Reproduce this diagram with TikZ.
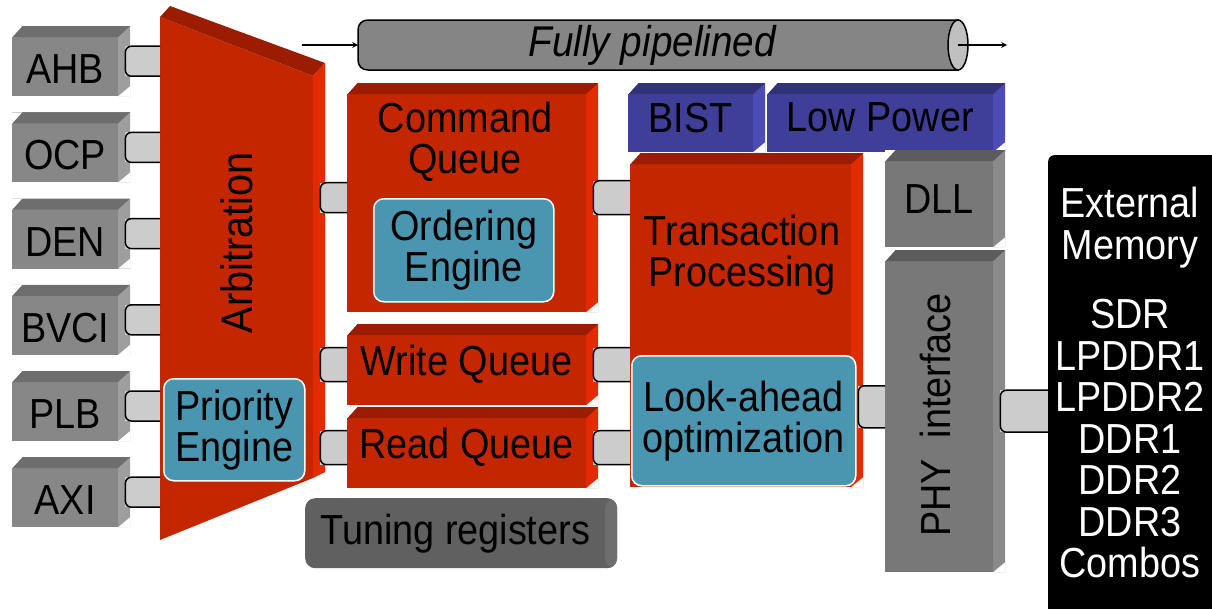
\documentclass[tikz,border=0pt]{standalone}
\usepackage{fontspec}
\setmainfont{Liberation Sans}[FakeStretch=0.9]
\usepackage{tikz}
\usetikzlibrary{calc,positioning}
\definecolor{busfront}{RGB}{135,135,135}
\definecolor{bustop}{RGB}{110,110,110}
\definecolor{busside}{RGB}{158,158,158}
\definecolor{redfront}{RGB}{196,38,0}
\definecolor{redtop}{RGB}{155,28,0}
\definecolor{redside}{RGB}{228,42,0}
\definecolor{bluefront}{RGB}{63,63,153}
\definecolor{bluetop}{RGB}{50,50,120}
\definecolor{blueside}{RGB}{76,76,178}
\definecolor{phyfront}{RGB}{120,120,120}
\definecolor{phytop}{RGB}{92,92,92}
\definecolor{physide}{RGB}{138,138,138}
\definecolor{tealfill}{RGB}{74,150,176}
\definecolor{tunefill}{RGB}{96,96,96}
\definecolor{tuneside}{RGB}{110,110,110}
\definecolor{plugfill}{RGB}{204,204,204}
\definecolor{pipegrey}{RGB}{133,133,133}
\definecolor{pipeend}{RGB}{192,192,192}
\tikzset{
  box3d/.style n args={3}{rectangle, inner sep=0pt, anchor=north west, fill=#1,
    execute at begin node={\kern-12pt},
    path picture={
      \fill[#2] (path picture bounding box.north west) -- (path picture bounding box.north east)
        -- ([shift={(-12pt,-11pt)}]path picture bounding box.north east)
        -- ([yshift=-11pt]path picture bounding box.north west) -- cycle;
      \fill[#3] ([shift={(-12pt,-11pt)}]path picture bounding box.north east)
        -- (path picture bounding box.north east) -- (path picture bounding box.south east)
        -- ([xshift=-12pt]path picture bounding box.south east) -- cycle;
      % cut corners
      \fill[white] (path picture bounding box.north west) -- ([xshift=10pt]path picture bounding box.north west)
        -- ([yshift=-11pt]path picture bounding box.north west) -- cycle;
      \fill[white] (path picture bounding box.south east) -- ([yshift=10pt]path picture bounding box.south east)
        -- ([xshift=-12pt]path picture bounding box.south east) -- cycle;
    }},
}
\tikzstyle{busbox} = [box3d={busfront}{bustop}{busside}, minimum width=118pt, minimum height=70pt, text height=45pt, text depth=0pt]
\tikzstyle{redbox} = [box3d={redfront}{redtop}{redside}]
\tikzstyle{bluebox} = [box3d={bluefront}{bluetop}{blueside}, minimum height=69pt]
\tikzstyle{phybox} = [box3d={phyfront}{phytop}{physide}, minimum width=120pt]
\tikzstyle{tealbox} = [rectangle, rounded corners=10pt, fill=tealfill, draw=white, line width=1.5pt, anchor=north west, align=center, inner sep=0pt]
\tikzstyle{plugline} = [line width=1.5pt, rounded corners=6pt]
\tikzstyle{arrow} = [line width=1.5pt,->,>=stealth]
\newcommand{\plug}[4]{%
  \fill[plugfill] ($(#1 -| #2.east)+(-5pt,#4)$) rectangle ($(#1 -| #3.west)+(0pt,-#4)$);
  \draw[plugline] ($(#1 -| #3.west)+(0pt,#4)$) -- ($(#1 -| #2.east)+(-5pt,#4)$)
    -- ($(#1 -| #2.east)+(-5pt,-#4)$) -- ($(#1 -| #3.west)+(0pt,-#4)$);
}
\begin{document}
\begin{tikzpicture}[x=1pt,y=-1pt,font=\fontsize{42}{41}\selectfont]
\useasboundingbox (0,0) rectangle (1212,608);

% pipeline tube
\draw[line width=1.5pt, fill=pipegrey] (958,20) -- (368,20) .. controls (362,20) and (358,24) .. (358,30)
  -- (358,60) .. controls (358,66) and (362,70) .. (368,70) -- (958,70) -- cycle;
\draw[line width=1.5pt, fill=pipeend] (958,45) ellipse [x radius=10pt, y radius=25pt];
\node[anchor=west, minimum width=600pt, minimum height=50pt, inner sep=0pt,
  font=\fontsize{43}{43}\selectfont\itshape] (pipe) at (358,45) {\kern-12pt Fully pipelined};
\coordinate (pipein) at (302,45);
\coordinate (pipeout) at (1007,45);
\draw[arrow] (pipein) -- (pipe.west);
\draw[arrow] (pipe.east) -- (pipeout);

% bus interfaces
\foreach \name/\lbl [count=\i] in {ahb/AHB,ocp/OCP,den/DEN,bvci/BVCI,plb/PLB,axi/AXI}
  \node[busbox] (\name) at (12,{26+86.2*(\i-1)}) {\lbl};

% arbitration
\node[anchor=north west, minimum width=165pt, minimum height=534pt, inner sep=0pt] (arb) at (160,6) {};
\fill[redfront] (160,17) -- (313,76) -- (313,478) -- (160,540) -- cycle;
\fill[redtop] (160,17) -- (170,6) -- (325,63) -- (313,76) -- cycle;
\fill[redside] (313,76) -- (325,63) -- (325,472) -- (313,478) -- cycle;
\node[rotate=90, font=\fontsize{44}{44}\selectfont] (arbtext) at (237,243) {Arbitration};
\node[tealbox, minimum width=141pt, minimum height=102pt] (prio) at (163,378) {Priority\\Engine};

% queues
\node[redbox, minimum width=251pt, minimum height=229pt] (cmdq) at (347,83) {};
\node[align=center] (cmdqtext) at (465,142) {Command\\Queue};
\node[tealbox, minimum width=180pt, minimum height=103pt] (order) at (373,198) {Ordering\\Engine};
\node[redbox, minimum width=251pt, minimum height=81pt] (wrq) at (347,324) {Write Queue};
\node[redbox, minimum width=251pt, minimum height=81pt] (rdq) at (347,407) {Read Queue};
\node[anchor=north west, rounded corners=10pt, fill=tunefill, minimum width=312pt, minimum height=70pt,
  path picture={\fill[tuneside] ([xshift=-12pt]path picture bounding box.north east) rectangle (path picture bounding box.south east);}]
  (tune) at (305,498) {\kern-12pt Tuning registers};

% transaction processing
\node[bluebox, minimum width=137pt] (bist) at (628,83) {BIST};
\node[bluebox, minimum width=238pt] (lowp) at (767,83) {Low Power};
\node[redbox, minimum width=233pt, minimum height=334pt] (trans) at (630,153) {};
\node[align=center] (transtext) at (742,255) {Transaction\\Processing};
\node[tealbox, minimum width=224pt, minimum height=130pt] (look) at (631,355) {Look-ahead\\optimization};

% phy
\node[phybox, minimum height=97pt] (dll) at (885,150) {DLL};
\node[phybox, minimum height=322pt] (phy) at (885,250) {};
\node[rotate=90] (phytext) at (935,415) {PHY\ \ interface};

% external memory
\node[anchor=north west, fill=black, rounded corners=6pt, minimum width=180pt, minimum height=470pt] (ext) at (1048,155) {};
\node[anchor=north, align=center, text=white, font=\fontsize{42}{41.5}\selectfont] (exttext) at (1130,184)
  {External\\Memory\\[28pt]SDR\\LPDDR1\\LPDDR2\\DDR1\\DDR2\\DDR3\\Combos};

% connectors
\foreach \name in {ahb,ocp,den,bvci,plb,axi}
  \plug{\name.east}{\name}{arb}{15pt};
\plug{cmdq.west}{arb}{cmdq}{15pt}
\plug{wrq.west}{arb}{wrq}{17pt}
\plug{rdq.west}{arb}{rdq}{17pt}
\plug{cmdq.east}{cmdq}{trans}{17pt}
\plug{wrq.east}{wrq}{trans}{17pt}
\plug{rdq.east}{rdq}{trans}{17pt}
\coordinate (lookport) at ($(look.east)+(0pt,14pt)$);
\plug{lookport}{trans}{phy}{21pt}
\plug{phy.east}{phy}{ext}{21pt}
\end{tikzpicture}
\end{document}
